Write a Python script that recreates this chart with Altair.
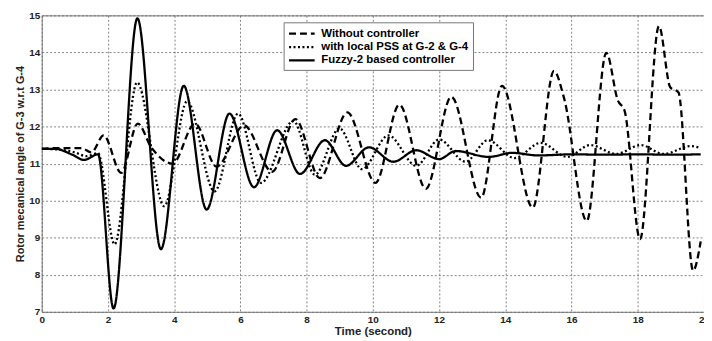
import altair as alt
import pandas as pd

# --- data ---
series_names = ["Without controller", "with local PSS at G-2 & G-4", "Fuzzy-2 based controller"]

t_without = [0, 0.6, 1.2, 1.5, 1.87, 2.4, 2.9, 3.3, 3.95, 4.63, 5.28, 6.11, 6.96, 7.66, 8.4,
             9.23, 10.08, 10.8, 11.6, 12.37, 13.27, 13.9, 14.83, 15.47, 15.77, 16.46, 17.05,
             17.4, 17.6, 18.07, 18.64, 18.98, 19.23, 19.67, 19.9]
y_without = [11.4, 11.42, 11.42, 11.3, 11.76, 10.75, 12.08, 11.45, 11.0, 12.08, 10.92, 12.03,
             10.78, 12.2, 10.61, 12.38, 10.48, 12.59, 10.32, 12.8, 10.08, 13.1, 9.81, 13.5,
             12.78, 9.45, 13.99, 12.7, 12.43, 8.96, 14.71, 13.06, 12.92, 8.11, 8.9]

t_pss = [0, 0.5, 1.0, 1.35, 1.7, 2.2, 2.88, 3.7, 4.39, 5.22, 5.93, 6.62, 7.6, 8.25, 8.99,
         9.67, 10.47, 11.31, 12.0, 12.8, 13.47, 14.28, 15.07, 15.87, 16.56, 17.35, 18.09,
         18.78, 19.6, 19.9]
y_pss = [11.4, 11.38, 11.3, 11.2, 11.28, 8.82, 13.19, 9.85, 12.68, 10.25, 12.35, 10.48, 12.15,
         10.7, 11.95, 10.85, 11.76, 10.94, 11.65, 11.05, 11.63, 11.15, 11.56, 11.18, 11.5,
         11.26, 11.5, 11.26, 11.47, 11.42]

t_fuzzy = [0, 0.4, 0.9, 1.28, 1.7, 2.17, 2.89, 3.6, 4.29, 4.98, 5.67, 6.41, 7.11, 7.8, 8.55,
           9.19, 9.88, 10.62, 11.31, 12.0, 12.5, 13.5, 14.2, 15.0, 16.0, 17.0, 18.0, 19.0, 19.9]
y_fuzzy = [11.4, 11.4, 11.25, 11.1, 11.25, 7.09, 14.92, 8.69, 13.1, 9.76, 12.35, 10.36, 11.9,
           10.72, 11.63, 10.94, 11.44, 11.05, 11.36, 11.12, 11.34, 11.18, 11.29, 11.22, 11.25,
           11.24, 11.25, 11.24, 11.25]

x_ticks = [0, 2, 4, 6, 8, 10, 12, 14, 16, 18, 20]
y_ticks = [7, 8, 9, 10, 11, 12, 13, 14, 15]

rows = []
for name, ts, ys in zip(series_names, [t_without, t_pss, t_fuzzy], [y_without, y_pss, y_fuzzy]):
    for i, (t, y) in enumerate(zip(ts, ys)):
        rows.append({"series": name, "t": t, "y": y, "order": i})
df = pd.DataFrame(rows)

FONT = "Liberation Sans"

chart = alt.Chart(df).mark_line(
    interpolate="monotone", color="black", strokeWidth=2.3, clip=True
).encode(
    x=alt.X("t:Q", title="Time (second)",
            scale=alt.Scale(domain=[0, 20], nice=False, zero=False),
            axis=alt.Axis(values=x_ticks, format="d", labelFlush=False)),
    y=alt.Y("y:Q", title="Rotor mecanical angle of G-3 w.r.t G-4",
            scale=alt.Scale(domain=[7, 15], nice=False, zero=False),
            axis=alt.Axis(values=y_ticks, format="d")),
    strokeDash=alt.StrokeDash(
        "series:N",
        scale=alt.Scale(domain=series_names, range=[[7, 4], [2, 2.5], [1, 0]]),
        legend=alt.Legend(
            title=None, orient="none", legendX=244, legendY=7,
            fillColor="white", strokeColor="#777777", padding=4,
            symbolType="M-1,0H3.3", symbolStrokeWidth=2.3, symbolSize=144,
            symbolStrokeColor="black", symbolFillColor="transparent", rowPadding=0.5,
            labelFont=FONT, labelFontSize=11.5, labelFontWeight="bold",
            labelColor="black", labelOffset=19,
        ),
    ),
    order="order:Q",
).properties(
    width=668, height=299,
    padding={"left": 34, "top": 6, "right": 0, "bottom": 28},
    autosize=alt.AutoSizeParams(type="none"),
).configure_view(
    stroke="#777777", strokeWidth=1
).configure_axis(
    grid=True, gridDash=[2, 2], gridColor="#666666", gridOpacity=0.8,
    domain=False, ticks=False,
    labelFont=FONT, labelFontSize=10, labelFontWeight="bold", labelColor="#222222",
    titleFont=FONT, titleFontWeight="bold", titleColor="#222222",
).configure_axisX(
    labelPadding=3, titlePadding=1, titleFontSize=11.5
).configure_axisY(
    labelPadding=2, titlePadding=3, titleFontSize=11
)

chart.save("out.html", embed_options={"renderer": "svg", "actions": False})
